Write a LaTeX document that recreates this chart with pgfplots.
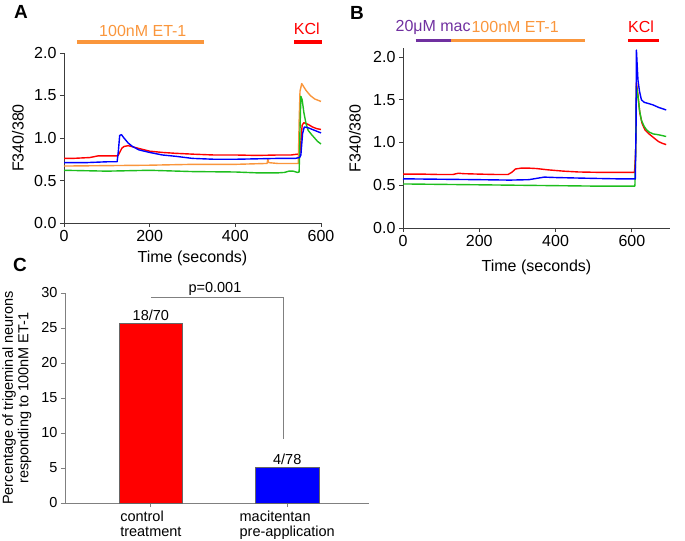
\documentclass[border=0pt]{standalone}
\usepackage{fontspec}
\setmainfont{Liberation Sans}
\usepackage{pgfplots}
\pgfplotsset{compat=1.18}

\definecolor{tred}{RGB}{255,0,0}
\definecolor{tblue}{RGB}{0,0,255}
\definecolor{tgreen}{RGB}{30,190,30}
\definecolor{torange}{RGB}{250,150,60}
\definecolor{tpurple}{RGB}{112,48,160}
\definecolor{axgray}{RGB}{60,60,60}

\pgfplotsset{
  trace/.style={
    scale only axis, clip=false,
    axis lines=left, axis line style={-, axgray, line width=0.8bp},
    tick style={axgray, line width=0.8bp}, tick align=outside, major tick length=4bp,
    font=\fontsize{16bp}{19bp}\selectfont,
    /pgf/number format/assume math mode=true,
    ymin=0, xmin=0, ytick={0,0.5,1,1.5,2}, xtick={0,200,400,600},
    yticklabel style={/pgf/number format/fixed, /pgf/number format/fixed zerofill, /pgf/number format/precision=1},
    xlabel={Time (seconds)}, ylabel={F340/380},
    every axis plot/.append style={line width=1.4bp, line join=round},
  },
}

\begin{document}
\begin{tikzpicture}
\path[use as bounding box] (0,0) rectangle (685bp,541bp);

% ---------- A ----------
\begin{axis}[trace, at={(64bp,318bp)}, anchor=south west,
  width=257bp, height=170bp, xmax=600, ymax=2,
  xlabel style={at={(axis description cs:0.5,-0.206)}, anchor=center},
  ylabel style={at={(axis description cs:-0.179,0.5)}, anchor=center}]
\addplot[tred] coordinates {(0,0.76) (20,0.76) (40,0.765) (60,0.77) (70,0.78) (80,0.79) (100,0.79) (126,0.79)
  (130,0.83) (135,0.88) (140,0.90) (150,0.91) (165,0.89) (180,0.87) (200,0.845) (230,0.83) (260,0.82)
  (300,0.81) (350,0.80) (400,0.80) (450,0.795) (500,0.80) (530,0.80) (545,0.81) (550,0.80)
  (553,0.95) (556,1.15) (560,1.18) (570,1.16) (580,1.13) (590,1.11) (600,1.10)};
\addplot[torange] coordinates {(0,0.67) (100,0.675) (200,0.68) (300,0.69) (400,0.69) (470,0.70) (474,0.70)
  (476,0.75) (478,0.71) (500,0.70) (540,0.70) (547,0.70) (549,1.2) (551,1.55) (555,1.64) (560,1.60)
  (565,1.56) (575,1.50) (585,1.46) (600,1.43)};
\addplot[tgreen] coordinates {(0,0.62) (100,0.61) (200,0.62) (300,0.605) (400,0.60) (450,0.59) (500,0.59)
  (515,0.595) (525,0.61) (535,0.61) (545,0.595) (549,0.60) (551,1.1) (553,1.49) (556,1.45) (560,1.30)
  (565,1.17) (570,1.09) (578,1.04) (585,1.00) (592,0.96) (600,0.93)};
\addplot[tblue] coordinates {(0,0.71) (50,0.71) (100,0.72) (124,0.72) (127,0.85) (130,1.03) (134,1.04)
  (140,1.00) (150,0.94) (160,0.90) (175,0.86) (200,0.83) (230,0.80) (260,0.785) (300,0.76) (350,0.75)
  (400,0.75) (450,0.755) (500,0.76) (540,0.76) (550,0.77) (553,0.80) (557,1.05) (561,1.13) (570,1.12)
  (580,1.10) (590,1.08) (600,1.06)};
% application bars
\addplot[torange, line width=3.5bp] coordinates {(30,2.13) (327,2.13)};
\addplot[tred, line width=3.5bp] coordinates {(537,2.13) (603,2.13)};
\node[text=torange] at (axis cs:184,2.26) {100nM ET-1};
\node[text=tred] at (axis cs:567,2.29) {KCl};
\end{axis}

% ---------- B ----------
\begin{axis}[trace, at={(403bp,313bp)}, anchor=south west,
  width=267bp, height=179.6bp, xmax=700, ymax=2.1,
  xlabel style={at={(axis description cs:0.5,-0.217)}, anchor=center},
  ylabel style={at={(axis description cs:-0.18,0.5)}, anchor=center}]
\addplot[tred] coordinates {(0,0.63) (50,0.63) (100,0.625) (130,0.625) (145,0.64) (160,0.635) (200,0.63)
  (250,0.625) (275,0.625) (285,0.65) (295,0.69) (310,0.70) (330,0.70) (350,0.695) (380,0.68)
  (420,0.665) (460,0.655) (520,0.65) (580,0.65) (607,0.65) (610,0.9) (612,1.7) (616,1.55) (621,1.34)
  (627,1.22) (634,1.15) (645,1.10) (656,1.06) (670,1.01) (680,0.99) (690,0.975)};
\addplot[tgreen] coordinates {(0,0.515) (100,0.51) (200,0.505) (300,0.50) (400,0.495) (500,0.49)
  (608,0.49) (610,0.9) (612,1.66) (616,1.54) (620,1.38) (625,1.26) (632,1.19) (638,1.15) (646,1.12)
  (656,1.10) (670,1.09) (690,1.07)};
\addplot[tblue] coordinates {(0,0.575) (100,0.57) (200,0.565) (280,0.56) (330,0.565) (350,0.58)
  (370,0.595) (400,0.59) (450,0.585) (500,0.58) (560,0.575) (609,0.575) (611,1.2) (612,2.08)
  (614,1.9) (616,1.73) (620,1.6) (625,1.5) (632,1.47) (640,1.46) (655,1.44) (670,1.41) (690,1.38)};
% application bars
\addplot[tpurple, line width=3.5bp] coordinates {(33,2.19) (127,2.19)};
\addplot[torange, line width=3.5bp] coordinates {(127,2.19) (476,2.19)};
\addplot[tred, line width=3.5bp] coordinates {(591,2.19) (671,2.19)};
\node[text=tpurple] at (axis cs:79,2.35) {20μM mac};
\node[text=torange] at (axis cs:294,2.35) {100nM ET-1};
\node[text=tred] at (axis cs:624,2.35) {KCl};
\end{axis}

% ---------- C ----------
\begin{axis}[scale only axis, clip=false, at={(65bp,38bp)}, anchor=south west,
  width=304bp, height=210bp, xmin=-0.63, xmax=1.6, ymin=0, ymax=30,
  axis lines=left, axis line style={-, gray, line width=0.8bp},
  tick style={gray, line width=0.8bp}, tick align=outside, major tick length=4bp,
  font=\fontsize{14.5bp}{15.5bp}\selectfont,
  /pgf/number format/assume math mode=true,
  ytick={0,5,10,15,20,25,30}, xtick={0,1},
  xticklabels={{control\\treatment},{macitentan\\pre-application}},
  xticklabel style={align=left},
  ylabel={Percentage of trigeminal neurons\\responding to 100nM ET-1},
  ylabel style={align=center, at={(axis description cs:-0.158,0.5)}, anchor=center}]
\addplot[ybar, bar width=0.463, bar shift=0pt, fill=tred, draw=black!60] coordinates {(0,25.71)};
\addplot[ybar, bar width=0.463, bar shift=0pt, fill=tblue, draw=black!60] coordinates {(1,5.13)};
\addplot[gray, line width=0.8bp] coordinates {(0,29.4) (0.97,29.4) (0.97,9.1)};
\node[anchor=south, inner sep=2bp] at (axis cs:0,25.71) {18/70};
\node[anchor=south, inner sep=2bp] at (axis cs:1,5.13) {4/78};
\node[anchor=south, inner sep=1.5bp] at (axis cs:0.47,29.4) {p=0.001};
\end{axis}

\node[font=\fontsize{19bp}{20bp}\selectfont\bfseries] at (21bp,529bp) {A};
\node[font=\fontsize{19bp}{20bp}\selectfont\bfseries] at (357bp,528bp) {B};
\node[font=\fontsize{19bp}{20bp}\selectfont\bfseries] at (20bp,276bp) {C};
\end{tikzpicture}
\end{document}
